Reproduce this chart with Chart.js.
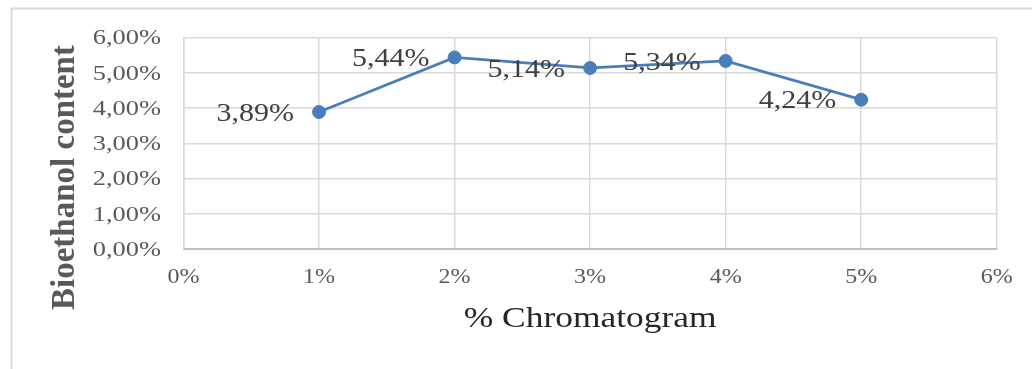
<!DOCTYPE html>
<html>
<head>
<meta charset="utf-8">
<script src="https://cdn.jsdelivr.net/npm/chart.js@4"></script>
<style>
  html, body { margin: 0; padding: 0; background: #ffffff; overflow: hidden; }
  #wrap { position: relative; width: 1032px; height: 369px; }
</style>
</head>
<body>
<div id="wrap"><canvas id="c"></canvas></div>
<script>
// Chromatogram concentration (%) and the measured bioethanol content (%)
const concentrations = [1, 2, 3, 4, 5];
const bioethanol = [3.89, 5.44, 5.14, 5.34, 4.24];
const xTicks = [0, 1, 2, 3, 4, 5, 6];
const yTicks = [0, 1, 2, 3, 4, 5, 6];
const xTitle = '% Chromatogram';
const yTitle = 'Bioethanol content';

const fmt2 = v => v.toFixed(2).replace('.', ',') + '%';
const fmt0 = v => v.toFixed(0) + '%';

const SERIF = '"Liberation Serif", "Times New Roman", serif';
const LINE_BLUE = '#4a7ebb';
const TEXT_SX = 1.2; // glyphs are drawn slightly wide

const canvas = document.getElementById('c');
const ctx = canvas.getContext('2d');
const baseFill = CanvasRenderingContext2D.prototype.fillText;
const baseMeasure = CanvasRenderingContext2D.prototype.measureText;
// widen every text run horizontally, keeping its anchor point fixed
ctx.fillText = function (t, x, y) {
  this.save();
  this.translate(x, y);
  this.scale(TEXT_SX, 1);
  baseFill.call(this, t, 0, 0);
  this.restore();
};
ctx.measureText = function (t) {
  const m = baseMeasure.call(this, t);
  return {
    width: m.width * TEXT_SX,
    actualBoundingBoxAscent: m.actualBoundingBoxAscent,
    actualBoundingBoxDescent: m.actualBoundingBoxDescent,
    actualBoundingBoxLeft: m.actualBoundingBoxLeft * TEXT_SX,
    actualBoundingBoxRight: m.actualBoundingBoxRight * TEXT_SX
  };
};

// light frame around the chart
const framePlugin = {
  id: 'frame',
  beforeDraw(chart) {
    const c = chart.ctx;
    c.save();
    c.strokeStyle = '#d9d9d9';
    c.lineWidth = 2;
    c.beginPath();
    c.moveTo(11.5, chart.height + 5);
    c.lineTo(11.5, 8.5);
    c.lineTo(chart.width + 5, 8.5);
    c.stroke();
    c.restore();
  }
};

// value labels placed left of each marker
const valueLabels = {
  id: 'valueLabels',
  afterDatasetsDraw(chart) {
    const c = chart.ctx;
    const meta = chart.getDatasetMeta(0);
    c.save();
    c.font = '25px ' + SERIF;
    c.fillStyle = '#404040';
    c.textAlign = 'right';
    c.textBaseline = 'middle';
    meta.data.forEach((pt, i) => {
      c.fillText(fmt2(bioethanol[i]), pt.x - 25, pt.y + 2);
    });
    c.restore();
  }
};

// axis titles
const axisTitles = {
  id: 'axisTitles',
  afterDraw(chart) {
    const c = chart.ctx;
    const area = chart.chartArea;
    c.save();
    c.font = '29.5px ' + SERIF;
    c.fillStyle = '#262626';
    c.textAlign = 'center';
    c.textBaseline = 'alphabetic';
    c.fillText(xTitle, (area.left + area.right) / 2, 327);
    c.restore();

    c.save();
    c.font = 'bold 33px ' + SERIF;
    c.fillStyle = '#595959';
    c.textAlign = 'center';
    c.textBaseline = 'middle';
    c.translate(65, 177.5);
    c.rotate(-Math.PI / 2);
    baseFill.call(c, yTitle, 0, 0);
    c.restore();
  }
};

new Chart(canvas, {
  type: 'scatter',
  data: {
    datasets: [{
      data: concentrations.map((x, i) => ({ x, y: bioethanol[i] })),
      showLine: true,
      borderColor: LINE_BLUE,
      borderWidth: 2.75,
      backgroundColor: LINE_BLUE,
      pointBackgroundColor: LINE_BLUE,
      pointBorderColor: LINE_BLUE,
      pointRadius: 6.5,
      pointBorderWidth: 1,
      tension: 0
    }]
  },
  options: {
    responsive: true,
    maintainAspectRatio: false,
    animation: false,
    events: [],
    layout: { padding: { top: 37.7, right: 35.3, bottom: 0, left: 0 } },
    plugins: { legend: { display: false }, tooltip: { enabled: false } },
    scales: {
      x: {
        type: 'linear',
        min: 0, max: 6,
        afterBuildTicks: s => { s.ticks = xTicks.map(v => ({ value: v })); },
        afterFit: s => { s.height = 120; },
        grid: { color: '#d9d9d9', lineWidth: 1.5, drawTicks: false },
        border: { color: '#bfbfbf', width: 2 },
        ticks: {
          padding: 17,
          color: '#595959',
          font: { family: SERIF, size: 20 },
          callback: v => fmt0(v)
        }
      },
      y: {
        type: 'linear',
        min: 0, max: 6,
        afterBuildTicks: s => { s.ticks = yTicks.map(v => ({ value: v })); },
        afterFit: s => { s.width = 183.5; },
        grid: { color: '#d9d9d9', lineWidth: 1.5, drawTicks: false },
        border: { color: '#d9d9d9', width: 1.5 },
        ticks: {
          padding: 22.5,
          labelOffset: 1,
          color: '#595959',
          font: { family: SERIF, size: 22 },
          callback: v => fmt2(v)
        }
      }
    }
  },
  plugins: [framePlugin, valueLabels, axisTitles]
});
</script>
</body>
</html>
